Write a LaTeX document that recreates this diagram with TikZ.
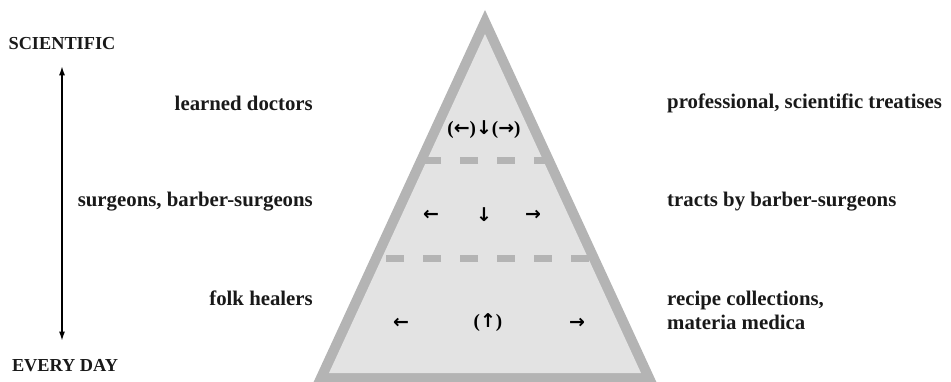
\documentclass[tikz,border=0pt]{standalone}
\usepackage{fontspec}
\setmainfont{Liberation Serif}
\newfontfamily\arrowfont{DejaVu Sans}
\usetikzlibrary{positioning,arrows.meta}

\definecolor{pyrline}{HTML}{B4B4B4}
\definecolor{pyrfill}{HTML}{E3E3E3}

\newcommand{\fl}[1]{{\arrowfont\bfseries\fontsize{19}{21}\selectfont #1}}

\tikzset{
  lbl/.style={font=\bfseries\fontsize{20.8}{24}\selectfont, inner sep=0pt, text=black!90},
  caps/.style={font=\bfseries\fontsize{18.3}{20}\selectfont, inner sep=0pt, text=black!90},
  sym/.style={font=\bfseries\fontsize{19}{21}\selectfont, inner sep=0pt},
  band/.style={draw=pyrline, line width=7pt, dash pattern=on 18pt off 19pt},
}

\begin{document}
\begin{tikzpicture}[x=1pt, y=-1pt]
    \useasboundingbox (0,0) rectangle (951,382);

    % pyramid
    \fill[pyrline] (485,10) -- (309,392) -- (661,392) -- cycle;
    \fill[pyrfill] (485,34) -- (329,373) -- (641,373) -- cycle;
    \begin{scope}
        \clip (485,10) -- (309,392) -- (661,392) -- cycle;
        \draw[band] (497,160.5) -- (700,160.5);
        \draw[band] (478,160.5) -- (300,160.5);
        \draw[band] (497,258.5) -- (700,258.5);
        \draw[band] (478,258.5) -- (300,258.5);
    \end{scope}

    % scale
    \node[caps] (sci)   at (62,44)  {SCIENTIFIC};
    \node[caps] (every) at (65,366) {EVERY DAY};
    \draw[{Latex[length=9pt,width=6pt]}-{Latex[length=9pt,width=6pt]}, line width=1.3pt]
        ([yshift=-16pt]sci.south) -- ([yshift=19pt]sci |- every.north);

    % practitioners
    \node[lbl, anchor=east] (doctors)  at (313,103) {learned doctors};
    \node[lbl, anchor=east] (surgeons) at (313,202) {surgeons, barber-surgeons};
    \node[lbl, anchor=east] (folk)     at (313,298) {folk healers};

    % texts
    \node[lbl, anchor=west] (treatises) at (667,103) {professional, scientific treatises};
    \node[lbl, anchor=west] (tracts)    at (667,202) {tracts by barber-surgeons};
    \node[lbl, anchor=west, align=left] (recipes) at (667,310)
        {recipe collections,\\materia medica};

    % flows
    \node[sym] (top)  at (484,130) {(\fl{←})\fl{↓}(\fl{→})};
    \node[sym] (midl) at (431,215) {\fl{←}};
    \node[sym] (midc) at (484,215) {\fl{↓}};
    \node[sym] (midr) at (533,215) {\fl{→}};
    \node[sym] (botl) at (401,323) {\fl{←}};
    \node[sym] (botc) at (488,323) {(\fl{↑})};
    \node[sym] (botr) at (577,323) {\fl{→}};
\end{tikzpicture}
\end{document}
